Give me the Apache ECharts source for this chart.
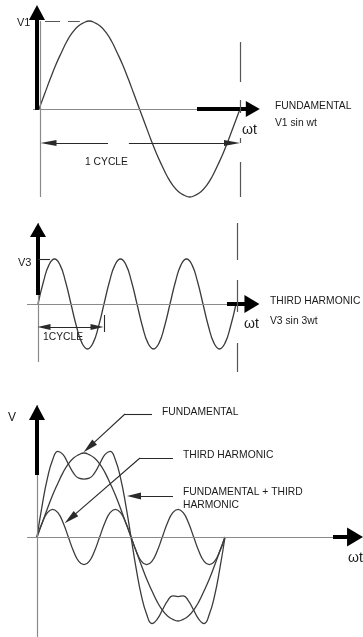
<!DOCTYPE html>
<html>
<head>
<meta charset="utf-8">
<script src="https://cdn.jsdelivr.net/npm/echarts@6/dist/echarts.min.js"></script>
<style>
html,body{margin:0;padding:0;background:#fff;}
#chart{width:363px;height:637px;}
</style>
</head>
<body>
<div id="chart"></div>
<script>
// ---- data (angles in degrees of the fundamental) ----
const angles = [0,10,20,30,40,50,60,70,80,90,100,110,120,130,140,150,160,170,180,190,200,210,220,230,240,250,260,270,280,290,300,310,320,330,340,350,360];
// panel 1 : fundamental V1 sin wt (V1 = 1)
const fundamentalTop = [0,0.17,0.34,0.50,0.64,0.77,0.87,0.94,0.98,1.00,0.98,0.94,0.87,0.77,0.64,0.50,0.34,0.17,0,-0.17,-0.34,-0.50,-0.64,-0.77,-0.87,-0.94,-0.98,-1.00,-0.98,-0.94,-0.87,-0.77,-0.64,-0.50,-0.34,-0.17,0];
// panel 2 : third harmonic V3 sin 3wt (V3 = 1)
const thirdMiddle = [0,0.50,0.87,1.00,0.87,0.50,0,-0.50,-0.87,-1.00,-0.87,-0.50,0,0.50,0.87,1.00,0.87,0.50,0,-0.50,-0.87,-1.00,-0.87,-0.50,0,0.50,0.87,1.00,0.87,0.50,0,-0.50,-0.87,-1.00,-0.87,-0.50,0];
// panel 3 : fundamental, third harmonic and their sum
const fundamentalBottom = [0,0.17,0.34,0.50,0.64,0.77,0.87,0.94,0.98,1.00,0.98,0.94,0.87,0.77,0.64,0.50,0.34,0.17,0,-0.17,-0.34,-0.50,-0.64,-0.77,-0.87,-0.94,-0.98,-1.00,-0.98,-0.94,-0.87,-0.77,-0.64,-0.50,-0.34,-0.17,0];
const thirdBottom = [0,0.17,0.29,0.33,0.29,0.17,0,-0.17,-0.29,-0.33,-0.29,-0.17,0,0.17,0.29,0.33,0.29,0.17,0,-0.17,-0.29,-0.33,-0.29,-0.17,0,0.17,0.29,0.33,0.29,0.17,0,-0.17,-0.29,-0.33,-0.29,-0.17,0];
const sumBottom = [0,0.38,0.70,0.92,1.02,0.98,0.87,0.76,0.70,0.69,0.70,0.76,0.87,0.98,1.02,0.92,0.70,0.38,0,-0.38,-0.70,-0.92,-1.03,-0.98,-0.87,-0.76,-0.70,-0.71,-0.70,-0.76,-0.87,-0.98,-1.03,-0.92,-0.70,-0.38,0];

// ---- text ----
const topTexts = ['V1', 'FUNDAMENTAL', 'V1 sin wt', 'ωt', '1 CYCLE'];
const middleTexts = ['V3', 'THIRD HARMONIC', 'V3 sin 3wt', 'ωt', '1CYCLE'];
const bottomTexts = ['V', 'FUNDAMENTAL', 'THIRD HARMONIC', 'FUNDAMENTAL + THIRD', 'HARMONIC', 'ωt'];

// ---- styles ----
const CURVE = {color:'#3c3c3c', width:1.3};
const THIN = {color:'#8a8a8a', width:1.2, type:'solid'};
const THICK = {color:'#000', width:4, type:'solid'};
const LEAD = {color:'#2a2a2a', width:1.1, type:'solid'};
const DASH = {color:'#555', width:1.2, type:'solid'};

function pairs(arr){ return angles.map((a,i)=>[a, arr[i]]); }
function seg(x1,y1,x2,y2,style,endSym,endSize,startSym,startSize){
  return [
    {coord:[x1,y1], symbol:startSym||'none', symbolSize:startSize||1, lineStyle:style},
    {coord:[x2,y2], symbol:endSym||'none', symbolSize:endSize||1}
  ];
}
function curve(name, arr, gi, marks){
  const s = {
    type:'line', name, xAxisIndex:gi, yAxisIndex:gi, data:pairs(arr),
    smooth:true, showSymbol:false, symbol:'none', clip:false, silent:true,
    lineStyle:{color:CURVE.color, width:CURVE.width}, animation:false,
    emphasis:{disabled:true}
  };
  if (marks) s.markLine = {silent:true, animation:false, symbol:['none','none'], label:{show:false}, emphasis:{disabled:true}, data:marks};
  return s;
}

// panel 1 marks
const marks1 = [
  seg(2,1.0,2,-1.0,THIN),
  seg(-10.7,0,360,0,THIN),
  seg(-3.6,-0.01,-3.6,1.097,THICK,'triangle',[16,15]),
  seg(283,0,383,0,THICK,'triangle',[16,14]),
  seg(10.7,1.0,73,1.0,Object.assign({},DASH,{type:[15,8]})),
  seg(360,0.761,360,0.307,DASH),
  seg(360,0.102,360,-0.045,DASH),
  seg(360,-0.33,360,-0.386,DASH),
  seg(360,-0.602,360,-1.0,DASH),
  seg(123.6,-0.386,17,-0.386,LEAD,'triangle',[6,16]),
  seg(161,-0.386,345.7,-0.386,LEAD,'triangle',[6,16])
];
// panel 2 marks
const marks2 = [
  seg(0,1.8,0,-1.29,THIN),
  seg(-20,0,361.8,0,THIN),
  seg(0,0.2,0,1.644,THICK,'triangle',[16,14]),
  seg(343.6,0,389,0,THICK,'triangle',[18,15]),
  seg(0,1.0,21.8,1.0,LEAD),
  seg(361.8,1.8,361.8,0.978,DASH),
  seg(361.8,0.533,361.8,-0.178,DASH),
  seg(361.8,-0.867,361.8,-1.511,DASH),
  seg(10.9,-0.511,107.3,-0.511,LEAD,'triangle',[6,13],'triangle',[6,13]),
  seg(120,-0.244,120,-0.622,LEAD)
];
// panel 3 marks
const marks3 = [
  seg(0,1.571,0,-1.19,THIN),
  seg(-19,0,590,0,THIN),
  seg(0,0.738,0,1.482,THICK,'triangle',[16,15]),
  seg(566.8,0,609,0,THICK,'triangle',[19,16]),
  seg(220.2,1.464,168.5,1.464,LEAD),
  seg(168.5,1.464,99.8,1.069,LEAD,'triangle',[7,15]),
  seg(260.4,0.940,197.2,0.940,LEAD),
  seg(197.2,0.940,63.8,0.221,LEAD,'triangle',[7,15]),
  seg(260.4,0.488,185.7,0.488,LEAD,'triangle',[7,14])
];

const FONT = '"Liberation Sans", Arial, Helvetica, sans-serif';
function txt(t,x,y,size,extra){
  return Object.assign({type:'text', x, y, silent:true, style:{text:t, fill:'#1a1a1a', font:(size||10)+'px '+FONT, verticalAlign:'middle'}}, extra||{});
}

const option = {
  backgroundColor:'#fff',
  animation:false,
  grid:[
    {left:22.25, top:3.4, width:240.08, height:193.6, outerBoundsMode:'none', containLabel:false},
    {left:21.5, top:218.5, width:236.5, height:157.5, outerBoundsMode:'none', containLabel:false},
    {left:21.333, top:394.2, width:349.89, height:247.8, outerBoundsMode:'none', containLabel:false}
  ],
  xAxis:[
    {type:'value', gridIndex:0, min:-30, max:400, show:false},
    {type:'value', gridIndex:1, min:-30, max:400, show:false},
    {type:'value', gridIndex:2, min:-30, max:640, show:false}
  ],
  yAxis:[
    {type:'value', gridIndex:0, min:-1, max:1.2, show:false},
    {type:'value', gridIndex:1, min:-1.6, max:1.9, show:false},
    {type:'value', gridIndex:2, min:-1.25, max:1.7, show:false}
  ],
  series:[
    curve('Fundamental', fundamentalTop, 0, marks1),
    curve('Third harmonic', thirdMiddle, 1, marks2),
    curve('Fundamental (combined)', fundamentalBottom, 2, marks3),
    curve('Third harmonic (combined)', thirdBottom, 2),
    curve('Fundamental + third harmonic', sumBottom, 2)
  ],
  graphic:[
    txt(topTexts[0],17,23,11),
    txt(topTexts[1],275,106,10.3),
    txt(topTexts[2],275,123,10.3),
    txt(topTexts[3],242,130,14),
    txt(topTexts[4],85,162,10.3),
    txt(middleTexts[0],18,263,11),
    txt(middleTexts[1],270,301,10.3),
    txt(middleTexts[2],270,321,10.3),
    txt(middleTexts[3],244,324,14),
    txt(middleTexts[4],43,337,10.3),
    txt(bottomTexts[0],8,418,12),
    txt(bottomTexts[1],162,412,10.3),
    txt(bottomTexts[2],183,455,10.3),
    txt(bottomTexts[3],183,492,10.3),
    txt(bottomTexts[4],183,505,10.3),
    txt(bottomTexts[5],348,558,14)
  ]
};
const chart = echarts.init(document.getElementById('chart'), null, {renderer:'canvas', width:363, height:637});
chart.setOption(option);
</script>
</body>
</html>
